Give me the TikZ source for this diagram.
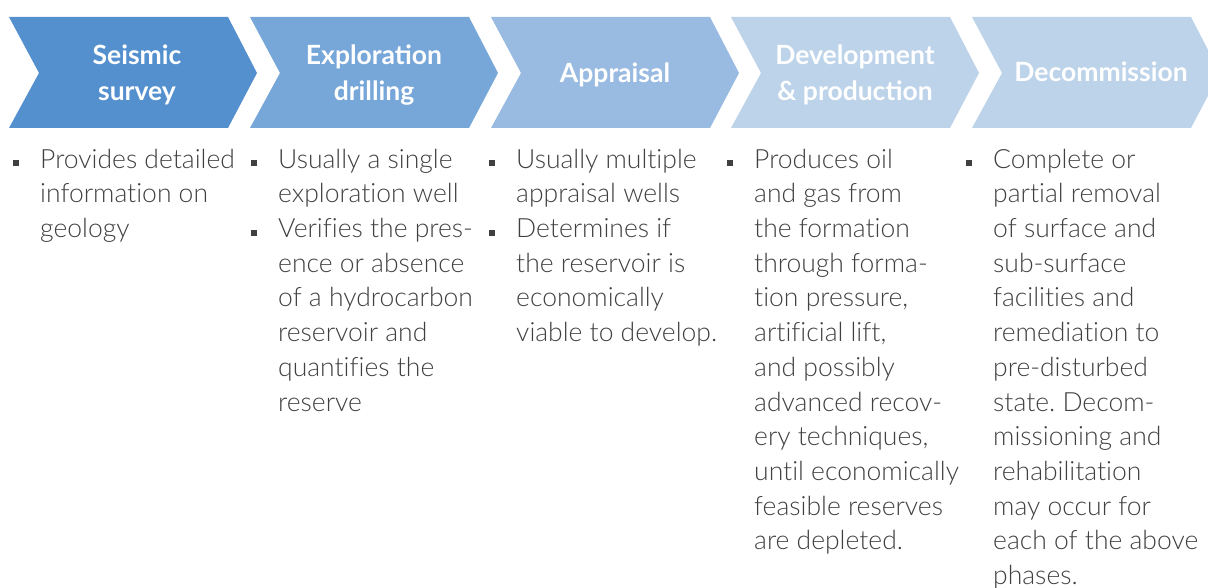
\documentclass[tikz,border=0pt]{standalone}
\usepackage{fontspec}
\setmainfont{Lato}
\newfontfamily\lightfont[Ligatures=NoCommon]{Lato Light}
\usetikzlibrary{positioning}
\frenchspacing
\definecolor{phaseA}{HTML}{5490CE}
\definecolor{phaseB}{HTML}{77A6D8}
\definecolor{phaseC}{HTML}{99BBE2}
\definecolor{phaseD}{HTML}{BCD3EA}
\definecolor{bodygray}{HTML}{404040}
% chevron: left x, colour
\newcommand{\chevron}[2]{\fill[#2] (#1,17) -- ++(219,0) -- ++(29,56) -- ++(-29,55) -- ++(-219,0) -- ++(30,-55) -- cycle;}
% square bullet hung left of the text
\newcommand{\sq}{\strut\llap{\rule[2pt]{6pt}{6pt}\hspace{21pt}}}

\begin{document}
\begin{tikzpicture}[x=1pt,y=-1pt]
    \tikzset{phase/.style = {anchor=base,align=center,text=white,inner sep=0,font=\bfseries\fontsize{26.5}{36}\selectfont}}
    \tikzset{item/.style = {anchor=north west,align=left,inner sep=0,text=bodygray,font=\lightfont\fontsize{26.5}{34.7}\selectfont}}
    \useasboundingbox (0,0) rectangle (1208,588);
    \clip (0,0) rectangle (1208,588);
    % chevrons
    \chevron{9}{phaseA}
    \chevron{250}{phaseB}
    \chevron{491}{phaseC}
    \chevron{731}{phaseD}
    \chevron{972}{phaseD}
    % phase names (base = last line)
    \node[phase] (seismic) at (137,101) {Seismic\\survey};
    \node[phase] (drilling) at (374,101) {Exploration\\drilling};
    \node[phase] (appraisal) at (615,83) {Appraisal};
    \node[phase] (production) at (855,101) {Development\\\& production};
    \node[phase] (decommission) at (1101,82) {Decommission};
    % descriptions, first baseline at 168
    \node[item] (seismicinfo) at (40,143.7) {\sq Provides detailed\\information on\\geology};
    \node[item] (drillinginfo) at (278,143.7) {\sq Usually a single\\exploration well\\\sq Verifies the pres-\\ence or absence\\of a hydrocarbon\\reservoir and\\quantifies the\\reserve};
    \node[item] (appraisalinfo) at (516,143.7) {\sq Usually multiple\\appraisal wells\\\sq Determines if\\the reservoir is\\economically\\viable to develop.};
    \node[item] (productioninfo) at (754,143.7) {\sq Produces oil\\and gas from\\the formation\\through forma-\\tion pressure,\\artificial lift,\\and possibly\\advanced recov-\\ery techniques,\\until economically\\feasible reserves\\are depleted.};
    \node[item] (decommissioninfo) at (993,143.7) {\sq Complete or\\partial removal\\of surface and\\sub-surface\\facilities and\\remediation to\\pre-disturbed\\state. Decom-\\missioning and\\rehabilitation\\may occur for\\each of the above\\phases.};
\end{tikzpicture}
\end{document}
